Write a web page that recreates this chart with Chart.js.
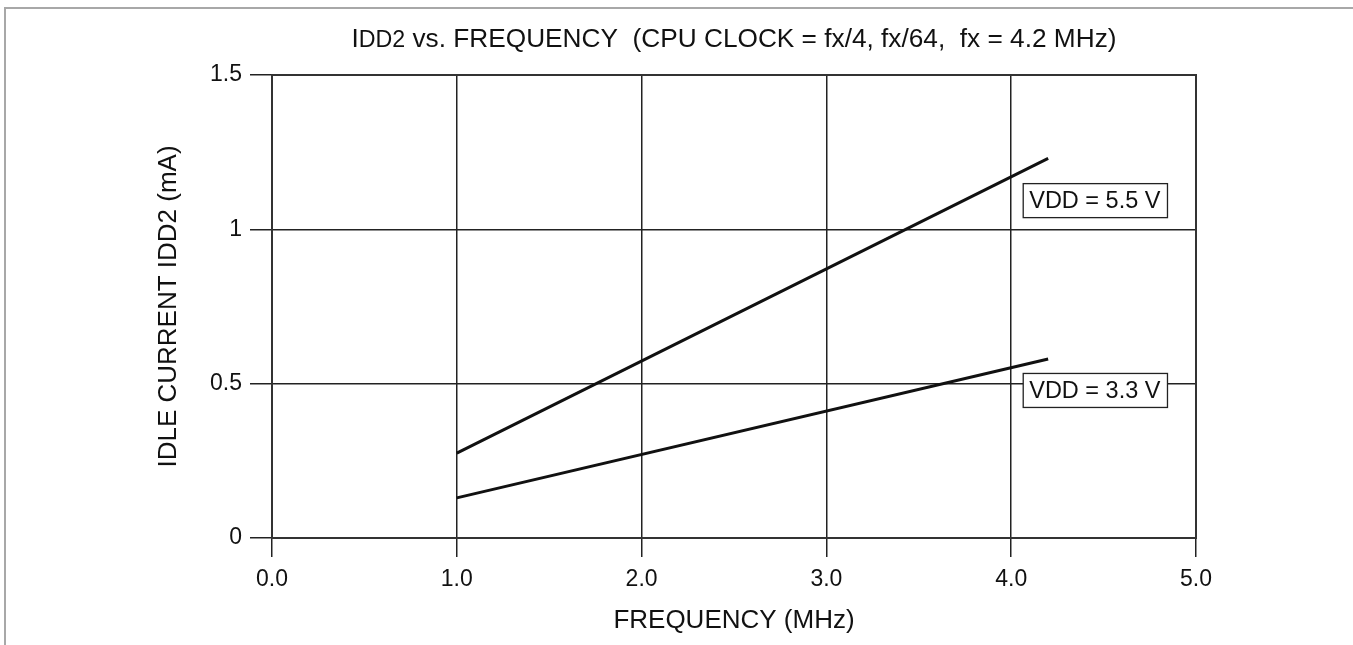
<!DOCTYPE html>
<html>
<head>
<meta charset="utf-8">
<script src="https://cdn.jsdelivr.net/npm/chart.js@4.4.1/dist/chart.umd.min.js"></script>
<style>
  html, body { margin: 0; padding: 0; background: #fff; }
</style>
</head>
<body>
<canvas id="myChart" width="1353" height="645"></canvas>
<script>
// IDD2 vs frequency, two supply voltages
const freqMHz = [1.0, 4.2];
const idd55 = [0.275, 1.23];
const idd33 = [0.13, 0.58];
const seriesNames = ['VDD = 5.5 V', 'VDD = 3.3 V'];
const xTickValues = [0, 1, 2, 3, 4, 5];
const yTickValues = [0, 0.5, 1, 1.5];
const yTickLabels = ['0', '0.5', '1', '1.5'];

// label boxes: left edge / vertical centre in axis units
const labelSpots = [{ x: 4.065, y: 1.093 }, { x: 4.065, y: 0.478 }];

const FONT = "'Liberation Sans', Arial, Helvetica, sans-serif";
const INK = '#111';

function toPoints(xs, ys) {
  return xs.map((x, i) => ({ x: x, y: ys[i] }));
}

// title with the smaller "DD2", squeezed a bit like the printed sheet
function drawTitle(ctx, area) {
  const big = '26px ' + FONT;
  const small = '23px ' + FONT;
  const parts = [
    ['I', big],
    ['DD2', small],
    [' vs. FREQUENCY  (CPU CLOCK = fx/4, fx/64,  fx = 4.2 MHz)', big],
  ];
  ctx.save();
  let w = 0;
  parts.forEach(p => { ctx.font = p[1]; w += ctx.measureText(p[0]).width; });
  const target = 765;
  const cx = (area.left + area.right) / 2;
  ctx.translate(cx - target / 2, 47);
  ctx.scale(target / w, 1);
  ctx.fillStyle = INK;
  ctx.textBaseline = 'alphabetic';
  let x = 0;
  parts.forEach(p => {
    ctx.font = p[1];
    ctx.fillText(p[0], x, 0);
    x += ctx.measureText(p[0]).width;
  });
  ctx.restore();
}

function drawLabelBox(ctx, text, left, midY) {
  ctx.save();
  ctx.font = '23.5px ' + FONT;
  const tw = ctx.measureText(text).width;
  const w = tw + 13, h = 34;
  ctx.fillStyle = '#fff';
  ctx.fillRect(left, midY - h / 2, w, h);
  ctx.strokeStyle = '#222';
  ctx.lineWidth = 1.3;
  ctx.strokeRect(left, midY - h / 2, w, h);
  ctx.fillStyle = INK;
  ctx.textBaseline = 'middle';
  ctx.fillText(text, left + 6, midY + 1);
  ctx.restore();
}

const sheetPlugin = {
  id: 'sheet',
  beforeDraw(chart) {
    const ctx = chart.ctx;
    ctx.save();
    ctx.fillStyle = '#fff';
    ctx.fillRect(0, 0, chart.width, chart.height);
    // page rule lines
    ctx.strokeStyle = '#a8a8a8';
    ctx.lineWidth = 2;
    ctx.beginPath();
    ctx.moveTo(chart.width, 8);
    ctx.lineTo(5, 8);
    ctx.lineTo(5, chart.height);
    ctx.stroke();
    ctx.restore();
  },
  afterDraw(chart) {
    const ctx = chart.ctx;
    const a = chart.chartArea;
    ctx.save();
    ctx.strokeStyle = '#333';
    ctx.lineWidth = 2;
    ctx.strokeRect(a.left, a.top, a.right - a.left, a.bottom - a.top);
    ctx.restore();
    drawTitle(ctx, a);
    const xs = chart.scales.x, ys = chart.scales.y;
    labelSpots.forEach((s, i) => {
      drawLabelBox(ctx, seriesNames[i], xs.getPixelForValue(s.x), ys.getPixelForValue(s.y));
    });
  },
};

const data = {
  datasets: [
    {
      label: seriesNames[0],
      data: toPoints(freqMHz, idd55),
      borderColor: INK,
      borderWidth: 3,
      pointRadius: 0,
    },
    {
      label: seriesNames[1],
      data: toPoints(freqMHz, idd33),
      borderColor: INK,
      borderWidth: 3,
      pointRadius: 0,
    },
  ],
};

const config = {
  type: 'line',
  data,
  options: {
    responsive: false,
    animation: false,
    layout: {
      padding: { left: 0, top: 75, right: 157, bottom: 0 },
    },
    plugins: {
      legend: { display: false },
      title: { display: false },
      tooltip: { enabled: false },
    },
    scales: {
      x: {
        type: 'linear',
        min: 0,
        max: 5,
        afterBuildTicks: s => { s.ticks = xTickValues.map(v => ({ value: v })); },
        afterFit: s => { s.height = 107; },
        ticks: {
          color: INK,
          padding: 9,
          maxRotation: 0,
          font: { size: 23, family: FONT },
          callback: v => Number(v).toFixed(1),
        },
        grid: { color: '#222', lineWidth: 1.5, tickLength: 19 },
        border: { color: '#333', width: 2 },
        title: {
          display: true,
          text: 'FREQUENCY (MHz)',
          color: INK,
          font: { size: 26, family: FONT },
          padding: { top: 0, bottom: 9 },
        },
      },
      y: {
        type: 'linear',
        min: 0,
        max: 1.5,
        afterBuildTicks: s => { s.ticks = yTickValues.map(v => ({ value: v })); },
        afterFit: s => { s.width = 272; },
        ticks: {
          color: INK,
          padding: 8,
          font: { size: 23, family: FONT },
          callback: (v, i) => yTickLabels[i],
        },
        grid: { color: '#222', lineWidth: 1.5, tickLength: 22 },
        border: { color: '#333', width: 2 },
        title: {
          display: true,
          text: 'IDLE CURRENT IDD2 (mA)',
          color: INK,
          font: { size: 26, family: FONT },
          padding: { top: 153, bottom: 0 },
        },
      },
    },
  },
  plugins: [sheetPlugin],
};

var myChart = new Chart(document.getElementById('myChart'), config);
</script>
</body>
</html>
